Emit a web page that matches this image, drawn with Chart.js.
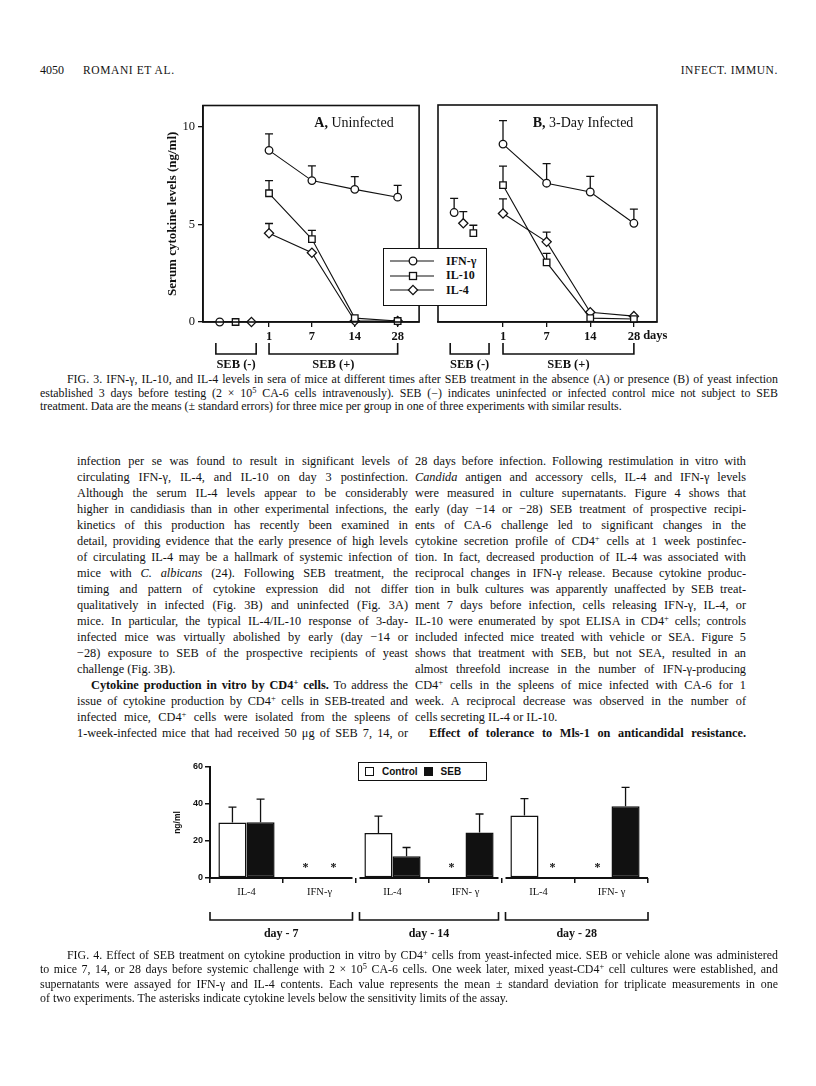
<!DOCTYPE html>
<html>
<head>
<meta charset="utf-8">
<script src="https://cdn.jsdelivr.net/npm/chart.js@4.4.1/dist/chart.umd.min.js"></script>
<style>
  html, body { margin: 0; padding: 0; background: #fff; }
  body { width: 816px; height: 1086px; position: relative; overflow: hidden;
         font-family: "Liberation Serif", "Times New Roman", serif; color: #111; }
  canvas { position: absolute; }
  .abs { position: absolute; }
  .line { white-space: nowrap; text-align: justify; text-align-last: justify; }
  .line.last { text-align-last: left; }
  .col { position: absolute; top: 453px; width: 331px; font-size: 12.3px; line-height: 16px; }
  .cap { position: absolute; left: 40px; width: 738px; font-size: 11.9px; line-height: 13.5px; }
  .ind { padding-left: 14px; }
  .capind { padding-left: 27px; }
  sup { font-size: 0.7em; line-height: 0; vertical-align: 0.45em; }
  #legend3 { left: 383px; top: 248px; width: 104px; height: 58px; border: 1.5px solid #111;
             background: #fff; z-index: 5; padding-top: 5px; box-sizing: border-box; }
  #legend3 .row { height: 14.5px; display: flex; align-items: center; }
  #legend3 svg { margin-right: 6px; }
  #legend3 span { font-weight: bold; font-size: 12px; }
  #legend4 { left: 358px; top: 762px; width: 129px; height: 19px; border: 1.5px solid #111;
             background: #fff; box-sizing: border-box; display: flex; align-items: center;
             font-family: "Liberation Sans", Arial, sans-serif; font-weight: bold; font-size: 10px; }
  #legend4 .sw { display: inline-block; width: 9px; height: 9px; border: 1.5px solid #111;
                 box-sizing: border-box; margin: 0 8px 0 6px; }
</style>
</head>
<body>

<div class="abs" style="left:40px;top:63px;font-size:12px;line-height:14px;">4050</div>
<div class="abs" style="left:83px;top:63px;font-size:11.5px;line-height:14px;letter-spacing:0.6px;">ROMANI ET AL.</div>
<div class="abs" style="right:38px;top:63px;font-size:11.5px;line-height:14px;letter-spacing:0.6px;">INFECT. IMMUN.</div>

<canvas id="fig3a" width="275" height="277" style="left:150px;top:95px;"></canvas>
<canvas id="fig3b" width="262" height="277" style="left:430px;top:95px;"></canvas>
<div id="legend3" class="abs"></div>

<div class="cap" style="top:373px;">
  <div class="line capind">FIG. 3. IFN-γ, IL-10, and IL-4 levels in sera of mice at different times after SEB treatment in the absence (A) or presence (B) of yeast infection</div>
  <div class="line">established 3 days before testing (2 × 10<sup>5</sup> CA-6 cells intravenously). SEB (−) indicates uninfected or infected control mice not subject to SEB</div>
  <div class="line last">treatment. Data are the means (± standard errors) for three mice per group in one of three experiments with similar results.</div>
</div>

<div class="col" style="left:77px;">
  <div class="line">infection per se was found to result in significant levels of</div>
  <div class="line">circulating IFN-γ, IL-4, and IL-10 on day 3 postinfection.</div>
  <div class="line">Although the serum IL-4 levels appear to be considerably</div>
  <div class="line">higher in candidiasis than in other experimental infections, the</div>
  <div class="line">kinetics of this production has recently been examined in</div>
  <div class="line">detail, providing evidence that the early presence of high levels</div>
  <div class="line">of circulating IL-4 may be a hallmark of systemic infection of</div>
  <div class="line">mice with <i>C. albicans</i> (24). Following SEB treatment, the</div>
  <div class="line">timing and pattern of cytokine expression did not differ</div>
  <div class="line">qualitatively in infected (Fig. 3B) and uninfected (Fig. 3A)</div>
  <div class="line">mice. In particular, the typical IL-4/IL-10 response of 3-day-</div>
  <div class="line">infected mice was virtually abolished by early (day −14 or</div>
  <div class="line">−28) exposure to SEB of the prospective recipients of yeast</div>
  <div class="line last">challenge (Fig. 3B).</div>
  <div class="line ind"><b>Cytokine production in vitro by CD4<sup>+</sup> cells.</b> To address the</div>
  <div class="line">issue of cytokine production by CD4<sup>+</sup> cells in SEB-treated and</div>
  <div class="line">infected mice, CD4<sup>+</sup> cells were isolated from the spleens of</div>
  <div class="line">1-week-infected mice that had received 50 μg of SEB 7, 14, or</div>
</div>

<div class="col" style="left:415px;">
  <div class="line">28 days before infection. Following restimulation in vitro with</div>
  <div class="line"><i>Candida</i> antigen and accessory cells, IL-4 and IFN-γ levels</div>
  <div class="line">were measured in culture supernatants. Figure 4 shows that</div>
  <div class="line">early (day −14 or −28) SEB treatment of prospective recipi-</div>
  <div class="line">ents of CA-6 challenge led to significant changes in the</div>
  <div class="line">cytokine secretion profile of CD4<sup>+</sup> cells at 1 week postinfec-</div>
  <div class="line">tion. In fact, decreased production of IL-4 was associated with</div>
  <div class="line">reciprocal changes in IFN-γ release. Because cytokine produc-</div>
  <div class="line">tion in bulk cultures was apparently unaffected by SEB treat-</div>
  <div class="line">ment 7 days before infection, cells releasing IFN-γ, IL-4, or</div>
  <div class="line">IL-10 were enumerated by spot ELISA in CD4<sup>+</sup> cells; controls</div>
  <div class="line">included infected mice treated with vehicle or SEA. Figure 5</div>
  <div class="line">shows that treatment with SEB, but not SEA, resulted in an</div>
  <div class="line">almost threefold increase in the number of IFN-γ-producing</div>
  <div class="line">CD4<sup>+</sup> cells in the spleens of mice infected with CA-6 for 1</div>
  <div class="line">week. A reciprocal decrease was observed in the number of</div>
  <div class="line last">cells secreting IL-4 or IL-10.</div>
  <div class="line ind"><b>Effect of tolerance to Mls-1 on anticandidal resistance.</b></div>
</div>

<canvas id="fig4" width="510" height="200" style="left:150px;top:755px;"></canvas>
<div id="legend4" class="abs"></div>

<div class="cap" style="top:948px;line-height:14.3px;">
  <div class="line capind">FIG. 4. Effect of SEB treatment on cytokine production in vitro by CD4<sup>+</sup> cells from yeast-infected mice. SEB or vehicle alone was administered</div>
  <div class="line">to mice 7, 14, or 28 days before systemic challenge with 2 × 10<sup>5</sup> CA-6 cells. One week later, mixed yeast-CD4<sup>+</sup> cell cultures were established, and</div>
  <div class="line">supernatants were assayed for IFN-γ and IL-4 contents. Each value represents the mean ± standard deviation for triplicate measurements in one</div>
  <div class="line last">of two experiments. The asterisks indicate cytokine levels below the sensitivity limits of the assay.</div>
</div>

<script>
// ---- Fig. 3 data: serum cytokines (ng/ml), mean and SE ----
const seriesNames = ["IFN-γ", "IL-10", "IL-4"];
const dayLabels = ["1", "7", "14", "28"];
const dayIndex = [1, 2, 3, 4];
const ticks3 = [0, 5, 10];

// A, uninfected
const ifnA = [8.8, 7.25, 6.8, 6.4];
const ifnAErr = [0.85, 0.75, 0.65, 0.6];
const il10A = [6.6, 4.25, 0.2, 0.05];
const il10AErr = [0.65, 0.45, 0, 0];
const il4A = [4.55, 3.55, 0.05, 0.05];
const il4AErr = [0.5, 0, 0, 0];
const controlA = [0, 0, 0];          // SEB (-): IFN-γ, IL-10, IL-4
const controlAErr = [0, 0, 0];
const controlAPos = [-0.15, 0.22, 0.59];

// B, 3-day infected
const ifnB = [9.1, 7.1, 6.65, 5.05];
const ifnBErr = [1.2, 1.0, 0.8, 0.72];
const il10B = [7.0, 3.05, 0.2, 0.15];
const il10BErr = [0.97, 0.46, 0, 0];
const il4B = [5.55, 4.1, 0.5, 0.3];
const il4BErr = [0.75, 0.5, 0, 0];
const controlB = [5.6, 4.55, 5.05];   // SEB (-): IFN-γ, IL-10, IL-4
const controlBErr = [0.72, 0.4, 0.6];
const controlBPos = [-0.12, 0.32, 0.09];

// ---- Fig. 4 data: in vitro cytokines (ng/ml), mean and SD ----
const fig4Labels = ["IL-4", "IFN-γ", "IL-4", "IFN- γ", "IL-4", "IFN- γ"];
const dayGroups = ["day - 7", "day - 14", "day - 28"];
const controlVals = [30, 0, 24.3, 0, 33.8, 0];
const controlSd = [8.3, 0, 9.2, 0, 9.1, 0];
const sebVals = [30.2, 0, 11.7, 24.6, 0, 38.8];
const sebSd = [12.4, 0, 4.8, 10.0, 0, 10.2];
const ticks4 = [0, 20, 40, 60];
const legend4Names = ["Control", "SEB"];

Chart.defaults.font.family = "'Liberation Serif', 'Times New Roman', serif";
Chart.defaults.color = "#111";

const INK = "#111";
const markerStyles = ["circle", "rect", "rectRot"];
const markerSizes = [3.8, 4.6, 4.6];

// error bars, drawn before the marks so filled markers sit on top
const errorBars = {
  id: "errorBars",
  beforeDatasetsDraw(chart) {
    const ctx = chart.ctx;
    const y = chart.scales.y;
    ctx.save();
    ctx.strokeStyle = INK;
    ctx.lineWidth = 1.3;
    chart.data.datasets.forEach((ds, di) => {
      if (!ds.errors) return;
      chart.getDatasetMeta(di).data.forEach((el, i) => {
        const e = ds.errors[i];
        if (!e) return;
        const d = ds.data[i];
        const v = typeof d === "object" ? d.y : d;
        const top = y.getPixelForValue(v + e);
        ctx.beginPath();
        ctx.moveTo(el.x, el.y);
        ctx.lineTo(el.x, top);
        ctx.moveTo(el.x - 4, top);
        ctx.lineTo(el.x + 4, top);
        ctx.stroke();
      });
    });
    ctx.restore();
  }
};

const frame = {
  id: "frame",
  afterDraw(chart) {
    const a = chart.chartArea;
    const ctx = chart.ctx;
    ctx.save();
    ctx.strokeStyle = INK;
    ctx.lineWidth = 1.6;
    ctx.strokeRect(a.left, a.top, a.right - a.left, a.bottom - a.top);
    ctx.restore();
  }
};

// square brackets under the x axis, positions given in x-scale units
const brackets = {
  id: "brackets",
  afterDraw(chart, args, opts) {
    if (!opts.items) return;
    const ctx = chart.ctx;
    const x = chart.scales.x;
    const base = chart.chartArea.bottom;
    ctx.save();
    ctx.strokeStyle = INK;
    ctx.fillStyle = INK;
    ctx.lineWidth = opts.lineWidth || 1.5;
    ctx.font = opts.font;
    ctx.textAlign = "center";
    ctx.textBaseline = "middle";
    opts.items.forEach(b => {
      const x0 = typeof b.from === "function" ? b.from(chart) : x.getPixelForValue(b.from);
      const x1 = typeof b.to === "function" ? b.to(chart) : x.getPixelForValue(b.to);
      const t = base + opts.top, u = base + opts.top + opts.depth;
      ctx.beginPath();
      ctx.moveTo(x0, t); ctx.lineTo(x0, u); ctx.lineTo(x1, u); ctx.lineTo(x1, t);
      ctx.stroke();
      ctx.fillText(b.label, (x0 + x1) / 2, base + opts.labelY);
    });
    ctx.restore();
  }
};

function panelDatasets(series, controls, controlErr, controlPos) {
  const out = [];
  series.forEach((s, k) => {
    out.push({
      label: seriesNames[k],
      data: dayIndex.map((d, i) => ({ x: d, y: s.vals[i] })),
      errors: s.errs,
      borderColor: INK, borderWidth: 1.1, tension: 0, fill: false,
      pointStyle: markerStyles[k], pointRadius: markerSizes[k],
      pointBackgroundColor: "#fff", pointBorderColor: INK, pointBorderWidth: 1.3,
      clip: false
    });
    out.push({
      label: seriesNames[k] + " SEB(-)",
      data: [{ x: controlPos[k], y: controls[k] }],
      errors: [controlErr[k]],
      showLine: false,
      pointStyle: markerStyles[k], pointRadius: markerSizes[k],
      pointBackgroundColor: "#fff", pointBorderColor: INK, pointBorderWidth: 1.3,
      clip: false
    });
  });
  return out;
}

function makePanel(id, datasets, xr, withY, pad, bracketItems, title, unit) {
  return new Chart(document.getElementById(id), {
    type: "line",
    data: { datasets },
    plugins: [errorBars, frame, brackets, {
      id: "panelTitle",
      afterDraw(chart) {
        const ctx = chart.ctx;
        const a = chart.chartArea;
        ctx.save();
        ctx.fillStyle = INK;
        ctx.textBaseline = "middle";
        ctx.textAlign = "left";
        ctx.font = "bold 14px 'Liberation Serif'";
        const w1 = ctx.measureText(title[0]).width;
        ctx.font = "14px 'Liberation Serif'";
        const w2 = ctx.measureText(title[1]).width;
        const x0 = a.left + title[2] - (w1 + w2) / 2;
        ctx.font = "bold 14px 'Liberation Serif'";
        ctx.fillText(title[0], x0, a.top + 18);
        ctx.font = "14px 'Liberation Serif'";
        ctx.fillText(title[1], x0 + w1, a.top + 18);
        if (unit) {
          // unit word written after the last day label
          ctx.font = "bold 12.5px 'Liberation Serif'";
          const last = dayLabels[dayLabels.length - 1];
          const xl = chart.scales.x.getPixelForValue(dayIndex[dayIndex.length - 1]) + ctx.measureText(last).width / 2 + 3;
          ctx.fillText(unit, xl, a.bottom + 14);
        }
        ctx.restore();
      }
    }],
    options: {
      responsive: false,
      animation: false,
      events: [],
      layout: { padding: pad },
      plugins: {
        legend: { display: false },
        tooltip: { enabled: false },
        brackets: {
          items: bracketItems, top: 21, depth: 11, labelY: 43,
          font: "bold 12.5px 'Liberation Serif'", lineWidth: 1.6
        }
      },
      scales: {
        x: {
          type: "linear", min: xr[0], max: xr[1],
          afterFit: s => { s.height = 50; },
          afterBuildTicks: s => { s.ticks = dayIndex.map(v => ({ value: v })); },
          ticks: {
            autoSkip: false, maxRotation: 0, padding: 2,
            font: { size: 12.5, weight: "bold" },
            callback: (v, i) => dayLabels[i]
          },
          grid: { drawOnChartArea: false, tickLength: 5, color: INK, lineWidth: 1.3 },
          border: { color: INK, width: 1.6 }
        },
        y: {
          display: withY,
          min: 0, max: 11.1,
          afterFit: s => { s.width = withY ? 53 : 0; },
          afterBuildTicks: s => { s.ticks = ticks3.map(v => ({ value: v })); },
          ticks: { font: { size: 12.5 }, padding: 3 },
          grid: { drawOnChartArea: false, tickLength: 5, color: INK, lineWidth: 1.3 },
          border: { color: INK, width: 1.6 },
          title: {
            display: true, text: "Serum cytokine levels (ng/ml)",
            font: { size: 13, weight: "bold" }, padding: { top: 15, bottom: 0 }
          }
        }
      }
    }
  });
}

makePanel("fig3a",
  panelDatasets([
    { vals: ifnA, errs: ifnAErr },
    { vals: il10A, errs: il10AErr },
    { vals: il4A, errs: il4AErr }
  ], controlA, controlAErr, controlAPos),
  [-0.54, 4.5], true, { top: 10, right: 3, left: 0, bottom: 0 },
  [{ from: -0.24, to: 0.7, label: "SEB (-)" }, { from: 1, to: 4, label: "SEB (+)" }],
  ["A,", " Uninfected", 151], null);

makePanel("fig3b",
  panelDatasets([
    { vals: ifnB, errs: ifnBErr },
    { vals: il10B, errs: il10BErr },
    { vals: il4B, errs: il4BErr }
  ], controlB, controlBErr, controlBPos),
  [-0.49, 4.53], false, { top: 10, right: 35, left: 8, bottom: 0 },
  [{ from: -0.21, to: 0.68, label: "SEB (-)" }, { from: 1, to: 4, label: "SEB (+)" }],
  ["B,", " 3-Day Infected", 145], "days");

// Fig. 3 legend
const lg3 = document.getElementById("legend3");
seriesNames.forEach((name, k) => {
  let mark;
  if (k === 0) mark = '<circle cx="29" cy="7" r="3.8" fill="#fff" stroke="#111" stroke-width="1.3"/>';
  else if (k === 1) mark = '<rect x="25.5" y="3.5" width="7" height="7" fill="#fff" stroke="#111" stroke-width="1.3"/>';
  else mark = '<polygon points="29,2.4 33.6,7 29,11.6 24.4,7" fill="#fff" stroke="#111" stroke-width="1.3"/>';
  lg3.insertAdjacentHTML("beforeend",
    '<div class="row"><svg width="56" height="14"><line x1="6" y1="7" x2="50" y2="7" stroke="#111" stroke-width="1.1"/>' +
    mark + '</svg><span>' + name + '</span></div>');
});

// ---- Fig. 4 ----
const asterisks = {
  id: "asterisks",
  afterDatasetsDraw(chart) {
    const ctx = chart.ctx;
    const y = chart.scales.y;
    ctx.save();
    ctx.fillStyle = INK;
    ctx.font = "bold 12px 'Liberation Serif'";
    ctx.textAlign = "center";
    ctx.textBaseline = "middle";
    chart.data.datasets.forEach((ds, di) => {
      chart.getDatasetMeta(di).data.forEach((el, i) => {
        if (ds.data[i] === 0) ctx.fillText("*", el.x, y.getPixelForValue(5.5));
      });
    });
    ctx.restore();
  }
};

function groupEdge(chart, g, side) {
  const x = chart.scales.x;
  const a = chart.chartArea;
  if (side === 0) {
    if (g === 0) return a.left;
    return (x.getPixelForValue(2 * g - 1) + x.getPixelForValue(2 * g)) / 2 + 3.5;
  }
  if (g === dayGroups.length - 1) return a.right;
  return (x.getPixelForValue(2 * g + 1) + x.getPixelForValue(2 * g + 2)) / 2 - 3.5;
}

const brokenAxis = {
  id: "brokenAxis",
  afterDraw(chart) {
    const ctx = chart.ctx;
    const b = chart.chartArea.bottom;
    ctx.save();
    ctx.strokeStyle = INK;
    ctx.lineWidth = 2;
    dayGroups.forEach((g, i) => {
      ctx.beginPath();
      ctx.moveTo(groupEdge(chart, i, 0) - (i === 0 ? 1 : 0), b);
      ctx.lineTo(groupEdge(chart, i, 1), b);
      ctx.stroke();
    });
    ctx.restore();
  }
};

new Chart(document.getElementById("fig4"), {
  type: "bar",
  data: {
    labels: fig4Labels,
    datasets: [
      {
        label: legend4Names[0], data: controlVals, errors: controlSd,
        backgroundColor: "#fff", borderColor: INK, borderWidth: 1.5, borderSkipped: false
      },
      {
        label: legend4Names[1], data: sebVals, errors: sebSd,
        backgroundColor: INK, borderColor: INK, borderWidth: 1.5, borderSkipped: false
      }
    ]
  },
  plugins: [errorBars, asterisks, brokenAxis, brackets],
  options: {
    responsive: false,
    animation: false,
    events: [],
    layout: { padding: { top: 12, right: 12, left: 0, bottom: 0 } },
    datasets: { bar: { categoryPercentage: 0.77, barPercentage: 1 } },
    plugins: {
      legend: { display: false },
      tooltip: { enabled: false },
      brackets: {
        items: dayGroups.map((g, i) => ({
          from: c => groupEdge(c, i, 0), to: c => groupEdge(c, i, 1), label: g
        })),
        top: 34, depth: 8, labelY: 56,
        font: "bold 12px 'Liberation Serif'", lineWidth: 1.6
      }
    },
    scales: {
      x: {
        afterFit: s => { s.height = 77; },
        ticks: { autoSkip: false, maxRotation: 0, padding: 3, font: { size: 10.5 } },
        grid: { drawOnChartArea: false, tickLength: 5, color: INK, lineWidth: 1.5 },
        border: { display: false }
      },
      y: {
        min: 0, max: 60,
        afterFit: s => { s.width = 60; },
        afterBuildTicks: s => { s.ticks = ticks4.map(v => ({ value: v })); },
        ticks: { padding: 2, font: { family: "'Liberation Sans', Arial, sans-serif", size: 9, weight: "bold" } },
        grid: { drawOnChartArea: false, tickLength: 5, color: INK, lineWidth: 1.5 },
        border: { color: INK, width: 2 },
        title: {
          display: true, text: "ng/ml",
          font: { family: "'Liberation Sans', Arial, sans-serif", size: 8.5, weight: "bold" },
          padding: { top: 23, bottom: 0 }
        }
      }
    }
  }
});

// Fig. 4 legend
const lg4 = document.getElementById("legend4");
legend4Names.forEach((name, k) => {
  lg4.insertAdjacentHTML("beforeend",
    '<span class="sw" style="background:' + (k ? "#111" : "#fff") + '"></span><span>' + name + '</span>');
});

// squeeze any justified line that is wider than its column
document.querySelectorAll(".line").forEach(el => {
  const w = el.clientWidth, sw = el.scrollWidth;
  if (sw > w) {
    const n = el.textContent.length;
    el.style.letterSpacing = ((w - sw) / n - 0.02) + "px";
  }
});
</script>
</body>
</html>
